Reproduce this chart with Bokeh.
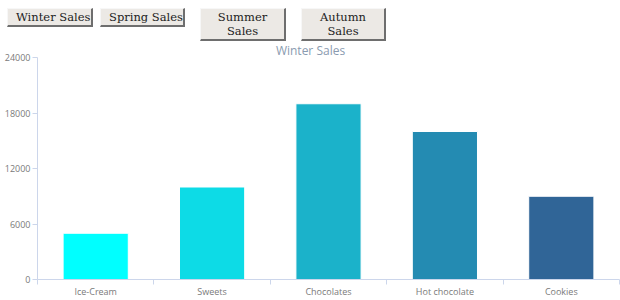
from bokeh.plotting import figure
from bokeh.models import Range1d, FixedTicker, Label, Div
from bokeh.layouts import column
from bokeh.embed import file_html
from bokeh.resources import INLINE
import numpy as np

# ---- data ----
categories = ["Ice-Cream", "Sweets", "Chocolates", "Hot chocolate", "Cookies"]
winter_sales = [5000, 10000, 19000, 16000, 9000]
bar_colors = ["#00ffff", "#0ddbe6", "#1bb2ca", "#248bb2", "#306597"]
y_ticks = [0, 6000, 12000, 18000, 24000]
buttons = ["Winter Sales", "Spring Sales", "Summer Sales", "Autumn Sales"]
chart_title = "Winter Sales"

W, H = 620, 300
DIV_H = 41
PH = H - DIV_H          # figure height
L, R, B = 37, 1, 21
FB = PH - B             # frame bottom (figure local)
FW = W - L - R
FH = PH - B             # frame spans from figure top to frame bottom
AX_TOP_CANVAS = 57      # canvas y of 24000
YMAX = 24000
Y_END = YMAX * (H - B - DIV_H) / (H - B - AX_TOP_CANVAS)
NX = len(categories)

# ---- buttons row (HTML) ----
btn_geom = [(7, 86, 19, True), (100, 85, 19, True), (200, 86, 33, False), (301, 85, 33, False)]
parts = []
for (left, w, h, one_line), txt in zip(btn_geom, buttons):
    ws = "nowrap" if one_line else "normal"
    parts.append(
        f'<button style="position:absolute;left:{left}px;top:8px;width:{w}px;height:{h}px;'
        f'box-sizing:border-box;margin:0;padding:0 8px;white-space:{ws};'
        f'font-family:\'DejaVu Serif\';font-size:11.5px;line-height:14px;color:#222;'
        f'background:#ece9e5;border-style:solid;border-width:1px 2px 2px 1px;'
        f'border-color:#f7f7f7 #6e6e6e #6e6e6e #f7f7f7;border-radius:0;">{txt}</button>')
html = (f'<div style="position:relative;width:{W}px;height:{DIV_H}px;overflow:hidden;">'
        + "".join(parts) + "</div>")
div = Div(text=html, width=W, height=DIV_H, margin=0)

# ---- chart ----
p = figure(width=W, height=PH, output_backend="svg", toolbar_location=None,
           x_range=Range1d(0, NX), y_range=Range1d(0, Y_END),
           min_border_left=L, min_border_right=R, min_border_top=0, min_border_bottom=B,
           margin=0)
p.outline_line_color = None
p.xgrid.grid_line_color = None
p.ygrid.grid_line_color = None
p.background_fill_color = "white"
p.border_fill_color = "white"

xs = np.arange(NX) + 0.5
p.vbar(x=xs, top=winter_sales, width=0.56, bottom=0,
       fill_color=bar_colors, line_color="white", line_width=1)

axis_col = "#ccd6eb"
lab_col = "#7a7a7a"
font = "Open Sans"

xa = p.xaxis[0]
xa.ticker = FixedTicker(ticks=list(xs), minor_ticks=list(range(NX + 1)))
xa.major_label_overrides = {float(x): c for x, c in zip(xs, categories)}
xa.major_tick_line_color = None
xa.major_tick_in = 0
xa.major_tick_out = 0
xa.minor_tick_line_color = axis_col
xa.minor_tick_in = 0
xa.minor_tick_out = 5
xa.axis_line_color = axis_col
xa.major_label_text_font = font
xa.major_label_text_font_size = "9px"
xa.major_label_text_color = lab_col
xa.major_label_standoff = 0

ya = p.yaxis[0]
ya.ticker = FixedTicker(ticks=y_ticks)
ya.bounds = (0, YMAX)
ya.formatter.use_scientific = False
ya.major_tick_in = 0
ya.major_tick_out = 5
ya.major_tick_line_color = axis_col
ya.minor_tick_line_color = None
ya.axis_line_color = axis_col
ya.major_label_text_font = font
ya.major_label_text_font_size = "9px"
ya.major_label_text_color = lab_col
ya.major_label_standoff = 2

# title, just under the button row so it stays fully visible
title_cy = 8.5
p.add_layout(Label(x=(310 - L) / FW * NX, y=(FB - title_cy) / FH * Y_END,
                   text=chart_title, text_align="center", text_baseline="middle",
                   text_font=font, text_font_size="12px", text_color="#8a9bb0"))

layout = column(div, p, spacing=0, margin=0)
open("out.html", "w").write(file_html(layout, INLINE))
